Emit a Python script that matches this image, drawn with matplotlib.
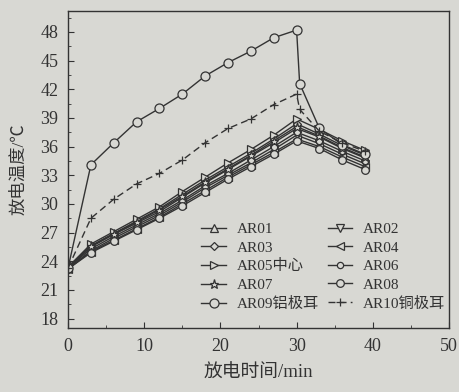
import matplotlib
matplotlib.use("Agg")
import matplotlib.pyplot as plt
from matplotlib.ticker import MultipleLocator

# discharge time (min)
t = [0, 3, 6, 9, 12, 15, 18, 21, 24, 27, 30, 33, 36, 39]
t_tab = [0, 3, 6, 9, 12, 15, 18, 21, 24, 27, 30, 30.4, 33, 36, 39]

ar01 = [23.3, 25.5, 26.8, 28.0, 29.2, 30.7, 32.2, 33.6, 35.0, 36.4, 37.9, 37.0, 35.8, 34.8]
ar02 = [23.2, 25.1, 26.4, 27.6, 28.8, 30.2, 31.7, 33.0, 34.3, 35.7, 37.2, 36.3, 35.2, 34.2]
ar03 = [23.4, 25.6, 26.9, 28.2, 29.5, 31.0, 32.5, 33.9, 35.3, 36.8, 38.4, 37.3, 36.1, 35.1]
ar04 = [23.2, 25.0, 26.2, 27.4, 28.6, 30.0, 31.4, 32.8, 34.1, 35.4, 36.8, 36.0, 34.9, 33.9]
ar05 = [23.4, 25.8, 27.1, 28.4, 29.7, 31.3, 32.8, 34.3, 35.7, 37.2, 38.9, 37.8, 36.6, 35.6]
ar06 = [23.3, 25.3, 26.6, 27.8, 29.0, 30.4, 31.9, 33.2, 34.6, 36.0, 37.5, 36.6, 35.5, 34.5]
ar07 = [23.3, 25.6, 26.9, 28.1, 29.4, 30.8, 32.3, 33.7, 35.1, 36.6, 38.1, 37.1, 35.9, 34.9]
ar08 = [23.2, 24.9, 26.1, 27.3, 28.5, 29.8, 31.2, 32.6, 33.9, 35.2, 36.6, 35.8, 34.6, 33.6]
ar09 = [23.3, 34.1, 36.4, 38.6, 40.0, 41.5, 43.4, 44.8, 46.0, 47.4, 48.2, 42.6, 37.9, 36.2, 35.2]
ar10 = [23.3, 28.5, 30.5, 32.1, 33.2, 34.6, 36.4, 37.9, 38.9, 40.4, 41.5, 39.9, 37.6, 36.4, 35.5]

bg = "#d8d8d3"
ink = "#333333"
fonts = ["Liberation Serif", "Noto Sans CJK SC"]

fig = plt.figure(figsize=(4.6, 3.92), dpi=100, facecolor=bg)
ax = fig.add_axes([0.148, 0.163, 0.828, 0.809], facecolor=bg)

kw = dict(color=ink, lw=1.0, ms=5.5, mfc=bg, mec=ink, mew=0.9)
h = {}
h[1], = ax.plot(t, ar01, marker="^", label="AR01", **kw)
h[2], = ax.plot(t, ar02, marker="v", label="AR02", **kw)
h[3], = ax.plot(t, ar03, marker="D", label="AR03", **dict(kw, ms=4.5))
h[4], = ax.plot(t, ar04, marker="<", label="AR04", **kw)
h[5], = ax.plot(t, ar05, marker=">", label="AR05中心", **kw)
h[6], = ax.plot(t, ar06, marker="o", label="AR06", **dict(kw, ms=4.5))
h[7], = ax.plot(t, ar07, marker="*", label="AR07", **dict(kw, ms=6.5))
h[8], = ax.plot(t, ar08, marker="o", label="AR08", **kw)
h[9], = ax.plot(t_tab, ar09, marker="o", label="AR09铝极耳", **dict(kw, ms=6.5))
h[10], = ax.plot(t_tab, ar10, marker="+", label="AR10铜极耳", ls=(0, (5, 3)), **kw)

ax.set_xlim(0, 50)
ax.set_ylim(17, 50.2)
ax.xaxis.set_major_locator(MultipleLocator(10))
ax.xaxis.set_minor_locator(MultipleLocator(5))
ax.yaxis.set_minor_locator(MultipleLocator(1.5))
ax.set_yticks(range(18, 49, 3))
ax.tick_params(which="both", direction="in", colors=ink, top=False, right=False)
ax.tick_params(which="major", length=4, labelsize=13, pad=7)
ax.tick_params(which="minor", length=2.5)
for lb in ax.get_xticklabels() + ax.get_yticklabels():
    lb.set_family(fonts)
    lb.set_color(ink)
for s in ax.spines.values():
    s.set_color(ink)
    s.set_linewidth(1.0)

ax.set_xlabel("放电时间/min", family=fonts, fontsize=13.5, color=ink, labelpad=7)
ax.set_ylabel("放电温度/℃", family=fonts, fontsize=12.5, color=ink, labelpad=9)

# row-wise legend order as in the original
order = [1, 3, 5, 7, 9, 2, 4, 6, 8, 10]
leg = ax.legend([h[i] for i in order], [h[i].get_label() for i in order],
                ncol=2, loc="lower left", bbox_to_anchor=(0.33, 0.03), frameon=False,
                prop={"family": fonts, "size": 11}, handlelength=1.6, borderpad=0,
                handletextpad=0.7, columnspacing=0.6, labelspacing=0.32,
                labelcolor=ink)

fig.savefig("out.png", dpi=100, facecolor=bg)
